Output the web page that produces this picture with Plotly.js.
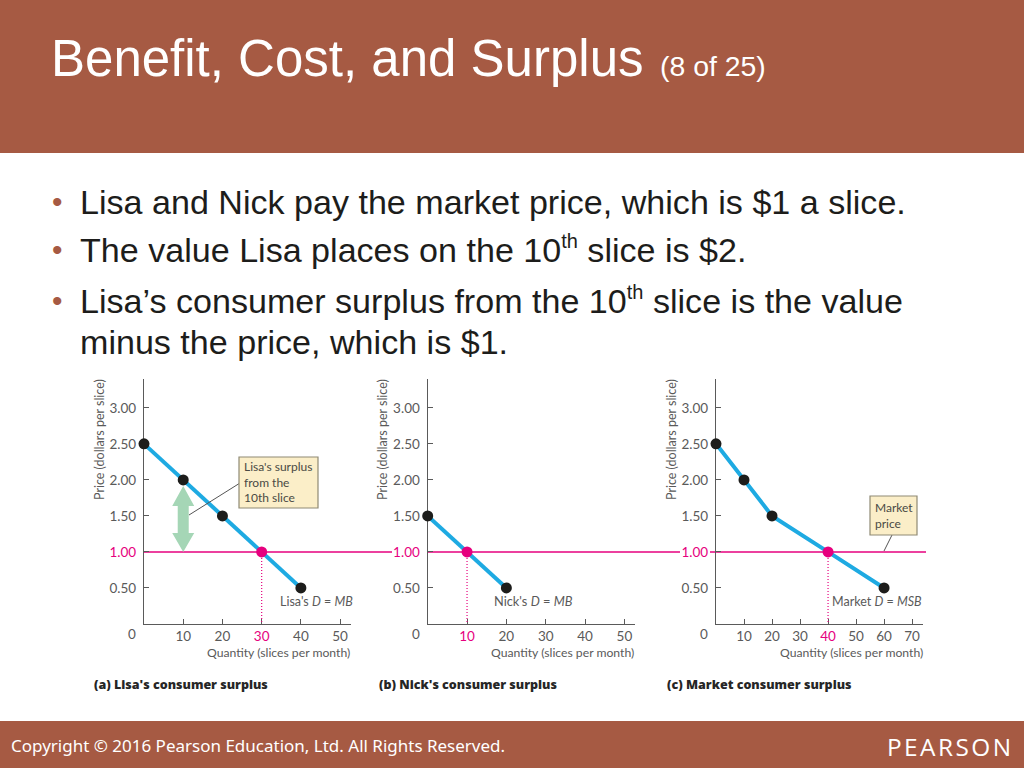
<!DOCTYPE html>
<html lang="en">
<head>
  <meta charset="UTF-8">
  <title>Benefit, Cost, and Surplus</title>
  <script src="https://cdn.plot.ly/plotly-3.0.1.min.js" charset="utf-8"></script>
  <style>
    html, body { margin: 0; padding: 0; background: #fff; }
  </style>
</head>
<body>
  <div id="chart" style="width:1024px;height:768px;"></div>
  <script>
    // values
    const priceTicks = [0.5, 1, 1.5, 2, 2.5, 3];
    const lisaQty = [0, 10, 20, 30, 40];
    const lisaPrice = [2.5, 2, 1.5, 1, 0.5];
    const nickQty = [0, 10, 20];
    const nickPrice = [1.5, 1, 0.5];
    const marketQty = [0, 10, 20, 40, 60];
    const marketPrice = [2.5, 2, 1.5, 1, 0.5];
    const marketPriceLevel = 1;
    const lisaTicks = [10, 20, 30, 40, 50];
    const nickTicks = [10, 20, 30, 40, 50];
    const marketTicks = [10, 20, 30, 40, 50, 60, 70];

    const W = 1024, H = 768;
    const BROWN = "#a65a43", PINK = "#e6007e", BLUE = "#1eaae2", DARK = "#1d1d1b", GREY = "#5a5a5a", GREEN = "#a5d6b6";
    const SANS = "Liberation Sans", GRAPH = "Lato";
    const TH = '<sup><span style="font-size:20px">th</span></sup>';

    const px = x => x / W;
    const py = y => 1 - y / H;

    // one graph: blue curve, dots and dotted drop line
    function demandTraces(q, p, eqQty, xa, ya) {
      return [
        { x: q, y: p, xaxis: xa, yaxis: ya, mode: "lines", line: { color: BLUE, width: 4 }, hoverinfo: "skip" },
        { x: [eqQty, eqQty], y: [marketPriceLevel, 0], xaxis: xa, yaxis: ya, mode: "lines",
          line: { color: PINK, width: 1.2, dash: "1px,2px" }, hoverinfo: "skip" },
        { x: q, y: p, xaxis: xa, yaxis: ya, mode: "markers", cliponaxis: false,
          marker: { size: 11, color: q.map(v => v === eqQty ? PINK : DARK) }, hoverinfo: "skip" }
      ];
    }

    function xAxis(left, right, xmax, ticks, eqQty, ya) {
      return {
        domain: [px(left), px(right)], range: [0, xmax], anchor: ya, layer: "below traces",
        tickmode: "array", tickvals: ticks,
        ticktext: ticks.map(v => v === eqQty ? '<span style="color:' + PINK + '">' + v + "</span>" : String(v)),
        ticks: "inside", ticklen: 5, tickwidth: 1, tickcolor: GREY,
        showline: true, linecolor: GREY, linewidth: 1.2, showgrid: false, zeroline: false,
        tickfont: { family: GRAPH, size: 13.5, color: GREY }
      };
    }

    function yAxis(xa) {
      return {
        domain: [py(624), py(379)], range: [0, 3.4], anchor: xa, layer: "below traces",
        tickmode: "array", tickvals: priceTicks, ticklabelstandoff: 4,
        ticktext: priceTicks.map(v => v === marketPriceLevel ? '<span style="color:' + PINK + '">' + v.toFixed(2) + "</span>" : v.toFixed(2)),
        ticks: "inside", ticklen: 5, tickwidth: 1, tickcolor: GREY,
        showline: true, linecolor: GREY, linewidth: 1.2, showgrid: false, zeroline: false,
        tickfont: { family: GRAPH, size: 13.5, color: GREY }
      };
    }

    function note(text, x, y, size, color, family, extra) {
      return Object.assign({
        text: text, x: px(x), y: py(y), xref: "paper", yref: "paper", xanchor: "left", yanchor: "middle",
        showarrow: false, align: "left", borderpad: 0,
        font: { family: family, size: size, color: color }
      }, extra || {});
    }

    const HEAVY = { font: { family: "Open Sans", size: 12.5, color: "#262626", weight: 800 } };

    const annotations = [
      note("Benefit, Cost, and Surplus", 50, 58, 51, "#fff", SANS),
      note("(8 of 25)", 659, 66, 28.4, "#fff", SANS),
      note("•", 51, 201, 30, BROWN, SANS),
      note("•", 51, 250, 30, BROWN, SANS),
      note("•", 51, 300, 30, BROWN, SANS),
      note("Lisa and Nick pay the market price, which is $1 a slice.", 79, 202, 34.08, DARK, SANS),
      note("The value Lisa places on the 10" + TH + " slice is $2.", 79, 250, 34.08, DARK, SANS),
      note("Lisa’s consumer surplus from the 10" + TH + " slice is the value", 79, 300, 34.08, DARK, SANS),
      note("minus the price, which is $1.", 79, 342, 34.08, DARK, SANS),
      note("Copyright © 2016 Pearson Education, Ltd. All Rights Reserved.", 9.5, 745, 17, "#fff", "Noto Sans"),
      note("P\u200aE\u200aA\u200aR\u200aS\u200aO\u200aN", 886, 746, 24.4, "#fff", "Open Sans"),

      note("Price (dollars per slice)", 99, 440, 12.5, GREY, GRAPH, { textangle: -90, xanchor: "center" }),
      note("Price (dollars per slice)", 382, 440, 12.5, GREY, GRAPH, { textangle: -90, xanchor: "center" }),
      note("Price (dollars per slice)", 671, 440, 12.5, GREY, GRAPH, { textangle: -90, xanchor: "center" }),
      note("Quantity (slices per month)", 351, 652, 12.2, GREY, GRAPH, { xanchor: "right" }),
      note("Quantity (slices per month)", 635, 652, 12.2, GREY, GRAPH, { xanchor: "right" }),
      note("Quantity (slices per month)", 924, 652, 12.2, GREY, GRAPH, { xanchor: "right" }),
      note("0", 132, 634, 13.5, GREY, GRAPH, { xanchor: "center" }),
      note("0", 416, 634, 13.5, GREY, GRAPH, { xanchor: "center" }),
      note("0", 704, 634, 13.5, GREY, GRAPH, { xanchor: "center" }),
      note("Lisa's <i>D</i> = <i>MB</i>", 354, 601, 12.5, GREY, GRAPH, { xanchor: "right" }),
      note("Nick's <i>D</i> = <i>MB</i>", 574, 601, 12.8, GREY, GRAPH, { xanchor: "right" }),
      note("Market <i>D</i> = <i>MSB</i>", 923, 601, 12.5, GREY, GRAPH, { xanchor: "right" }),
      note("Lisa's surplus<br>from the<br>10th slice", 243, 482, 12, "#4a4a44", GRAPH),
      note("Market<br>price", 873.5, 515, 12, "#4a4a44", GRAPH),
      note("(a) Lisa's consumer surplus", 93, 684, 12.5, "#262626", "Open Sans", HEAVY),
      note("(b) Nick's consumer surplus", 378, 684, 12.5, "#262626", "Open Sans", HEAVY),
      note("(c) Market consumer surplus", 666, 684, 12.5, "#262626", "Open Sans", HEAVY)
    ];

    function band(y0, y1) {
      return { type: "rect", xref: "paper", yref: "paper", x0: 0, x1: 1, y0: py(y1), y1: py(y0), fillcolor: BROWN, line: { width: 0 }, layer: "below" };
    }
    function box(x0, y0, x1, y1) {
      return { type: "rect", xref: "paper", yref: "paper", x0: px(x0), x1: px(x1), y0: py(y1), y1: py(y0), fillcolor: "#fbeec8", line: { color: "#8f8a74", width: 1.2 }, layer: "above" };
    }
    function leader(x0, y0, x1, y1) {
      return { type: "line", xref: "paper", yref: "paper", x0: px(x0), x1: px(x1), y0: py(y0), y1: py(y1), line: { color: "#555", width: 1 }, layer: "above" };
    }
    function priceLine(x0, x1) {
      return { type: "line", xref: "paper", yref: "y", x0: px(x0), x1: px(x1), y0: marketPriceLevel, y1: marketPriceLevel, line: { color: PINK, width: 1.6 }, layer: "below" };
    }

    const shapes = [
      band(0, 153),
      band(721, 768),
      priceLine(144, 392),
      priceLine(428, 680),
      priceLine(710, 926),
      // green double arrow, sized in pixels from the 1.00 level at the 10th slice
      { type: "path", xref: "x", yref: "y", xsizemode: "pixel", ysizemode: "pixel", xanchor: 10, yanchor: marketPriceLevel,
        path: "M0,66 L11,46 L5.5,46 L5.5,19 L11,19 L0,0 L-11,19 L-5.5,19 L-5.5,46 L-11,46 Z",
        fillcolor: GREEN, line: { width: 0 }, layer: "below" },
      leader(240, 483, 189, 515),
      leader(892, 535, 884, 551),
      box(239, 457, 318, 508),
      box(870, 496, 917, 535)
    ];

    const data = [].concat(
      demandTraces(lisaQty, lisaPrice, 30, "x", "y"),
      demandTraces(nickQty, nickPrice, 10, "x2", "y2"),
      demandTraces(marketQty, marketPrice, 40, "x3", "y3")
    );

    const layout = {
      width: W, height: H, margin: { l: 0, r: 0, t: 0, b: 0 },
      paper_bgcolor: "#fff", plot_bgcolor: "rgba(0,0,0,0)", showlegend: false,
      xaxis: xAxis(144, 350.7, 52.7, lisaTicks, 30, "y"),
      yaxis: yAxis("x"),
      xaxis2: xAxis(427.7, 635, 52.7, nickTicks, 10, "y2"),
      yaxis2: yAxis("x2"),
      xaxis3: xAxis(716, 923.3, 74, marketTicks, 40, "y3"),
      yaxis3: yAxis("x3"),
      annotations: annotations,
      shapes: shapes
    };

    Plotly.newPlot("chart", data, layout, { displayModeBar: false, staticPlot: true });
  </script>
</body>
</html>
